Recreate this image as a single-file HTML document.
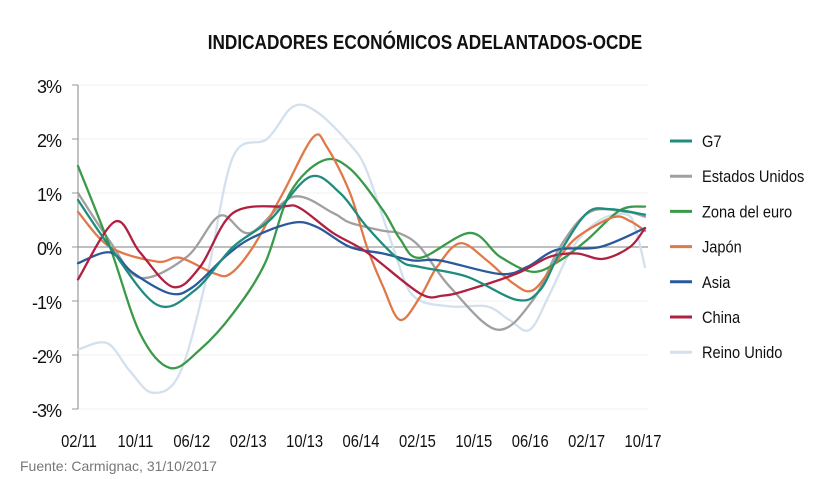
<!DOCTYPE html>
<html><head><meta charset="utf-8"><style>
body{margin:0;background:#fff;}
svg text{font-family:"Liberation Sans",sans-serif;}
</style></head><body>
<svg id="s" width="839" height="474" xmlns="http://www.w3.org/2000/svg">
<rect width="839" height="474" fill="#fff"/>
<text x="425" y="49" text-anchor="middle" font-size="20" font-weight="bold" fill="#111" transform="translate(425 0) scale(0.86 1) translate(-425 0)">INDICADORES ECONÓMICOS ADELANTADOS-OCDE</text>
<g stroke="#f0f0f0" stroke-width="1">
<line x1="78" x2="648" y1="85" y2="85"/><line x1="78" x2="648" y1="139" y2="139"/><line x1="78" x2="648" y1="193" y2="193"/>
<line x1="78" x2="648" y1="301" y2="301"/><line x1="78" x2="648" y1="355" y2="355"/><line x1="78" x2="648" y1="409" y2="409"/>
</g>
<line x1="78" x2="648" y1="247" y2="247" stroke="#999" stroke-width="1.2"/>
<line x1="78" x2="78" y1="85" y2="409" stroke="#999" stroke-width="1.2"/>
<g stroke="#999"><line x1="72" x2="78" y1="85" y2="85"/><line x1="72" x2="78" y1="139" y2="139"/><line x1="72" x2="78" y1="193" y2="193"/><line x1="72" x2="78" y1="247" y2="247"/><line x1="72" x2="78" y1="301" y2="301"/><line x1="72" x2="78" y1="355" y2="355"/><line x1="72" x2="78" y1="409" y2="409"/></g>
<g font-size="18" fill="#111" text-anchor="end">
<text x="62" y="93" textLength="25">3%</text><text x="62" y="147" textLength="25">2%</text><text x="62" y="201" textLength="25">1%</text><text x="62" y="255" textLength="25">0%</text>
<text x="62" y="309" textLength="30">-1%</text><text x="62" y="363" textLength="30">-2%</text><text x="62" y="417" textLength="30">-3%</text>
</g>
<g font-size="18" fill="#111" text-anchor="middle" id="xl"></g>
<g id="lines" fill="none" stroke-width="2.3" stroke-linecap="round"></g>
<g font-size="17" fill="#111" id="leg"></g>
<text x="20" y="471" font-size="14" fill="#777">Fuente: Carmignac, 31/10/2017</text>
</svg>
<script>
var NS="http://www.w3.org/2000/svg";
function Y(v){return 247-54*v;}
function path(p){p=p.map(function(a){return [a[0],Y(a[1])]});var d="M"+p[0][0]+","+p[0][1];
for(var i=0;i<p.length-1;i++){var p0=p[i-1]||p[i],p1=p[i],p2=p[i+1],p3=p[i+2]||p2;
d+=" C"+(p1[0]+(p2[0]-p0[0])/6)+","+(p1[1]+(p2[1]-p0[1])/6)+" "+(p2[0]-(p3[0]-p1[0])/6)+","+(p2[1]-(p3[1]-p1[1])/6)+" "+p2[0]+","+p2[1];}return d;}
var S=[
["Reino Unido","#d3e0ee",[[78,-1.9],[107,-1.78],[130,-2.3],[153,-2.7],[180,-2.33],[207,-0.54],[233,1.67],[267,2.0],[293,2.6],[317,2.5],[350,1.9],[367,1.4],[393,0],[413,-0.9],[450,-1.1],[487,-1.1],[510,-1.36],[530,-1.53],[550,-0.86],[573,0],[600,0.5],[627,0.6],[636,0.3],[645,-0.37]]],
["Estados Unidos","#a0a0a0",[[78,1.0],[110,0.1],[140,-0.57],[187,-0.18],[220,0.58],[250,0.26],[293,0.93],[333,0.63],[350,0.45],[383,0.3],[400,0.25],[420,0],[450,-0.74],[497,-1.53],[533,-0.98],[560,0],[590,0.65],[627,0.65],[645,0.56]]],
["Zona del euro","#3a9a4a",[[78,1.5],[110,0],[140,-1.6],[170,-2.24],[200,-1.9],[233,-1.23],[265,-0.3],[290,1.0],[323,1.6],[350,1.45],[383,0.68],[400,0.15],[420,-0.2],[470,0.26],[500,-0.18],[533,-0.46],[560,-0.25],[587,0.13],[620,0.68],[645,0.75]]],
["Japón","#e07848",[[78,0.65],[110,0],[157,-0.27],[180,-0.2],[213,-0.48],[230,-0.5],[253,0],[283,1.0],[313,2.03],[327,1.85],[350,1.0],[367,0],[383,-0.73],[400,-1.35],[420,-0.93],[437,-0.37],[460,0.07],[487,-0.25],[513,-0.67],[533,-0.8],[557,-0.25],[577,0.18],[613,0.55],[630,0.48],[645,0.3]]],
["Asia","#2a5a9a",[[78,-0.3],[110,-0.1],[133,-0.48],[170,-0.86],[193,-0.74],[227,-0.15],[253,0.18],[293,0.45],[317,0.37],[350,0],[383,-0.12],[413,-0.25],[440,-0.25],[500,-0.5],[527,-0.37],[557,-0.05],[600,0],[645,0.35]]],
["China","#b02040",[[78,-0.6],[115,0.47],[140,-0.1],[173,-0.74],[200,-0.37],[233,0.63],[283,0.75],[300,0.72],[333,0.26],[367,-0.1],[420,-0.86],[443,-0.9],[467,-0.8],[517,-0.49],[550,-0.18],[577,-0.12],[603,-0.22],[630,0],[645,0.35]]],
["G7","#1f8c7e",[[78,0.87],[110,0],[157,-1.07],[195,-0.8],[233,0],[270,0.5],[310,1.3],[340,1.0],[367,0.37],[400,-0.25],[420,-0.37],[467,-0.55],[517,-0.98],[540,-0.8],[560,-0.1],[587,0.63],[610,0.7],[645,0.6]]]
];
var L=document.getElementById("lines");
S.forEach(function(s){var e=document.createElementNS(NS,"path");e.setAttribute("d",path(s[2]));e.setAttribute("stroke",s[1]);L.appendChild(e);});
var order=["G7","Estados Unidos","Zona del euro","Japón","Asia","China","Reino Unido"];
var G=document.getElementById("leg");
order.forEach(function(n,i){var c=S.filter(function(s){return s[0]==n})[0][1];var y=141+i*35.2;
var l=document.createElementNS(NS,"line");l.setAttribute("x1",670);l.setAttribute("x2",692);l.setAttribute("y1",y);l.setAttribute("y2",y);l.setAttribute("stroke",c);l.setAttribute("stroke-width",3);G.appendChild(l);
var t=document.createElementNS(NS,"text");t.setAttribute("x",702);t.setAttribute("y",y+6);t.setAttribute("transform","translate(702 0) scale(0.86 1) translate(-702 0)");t.textContent=n;G.appendChild(t);});
var X=document.getElementById("xl");var lab=["02/11","10/11","06/12","02/13","10/13","06/14","02/15","10/15","06/16","02/17","10/17"];
lab.forEach(function(s,i){var t=document.createElementNS(NS,"text");var x=79+i*56.4;t.setAttribute("x",x);t.setAttribute("y",447);t.setAttribute("transform","translate("+x+" 0) scale(0.82 1) translate("+(-x)+" 0)");t.textContent=s;X.appendChild(t);});
</script>
</body></html>
